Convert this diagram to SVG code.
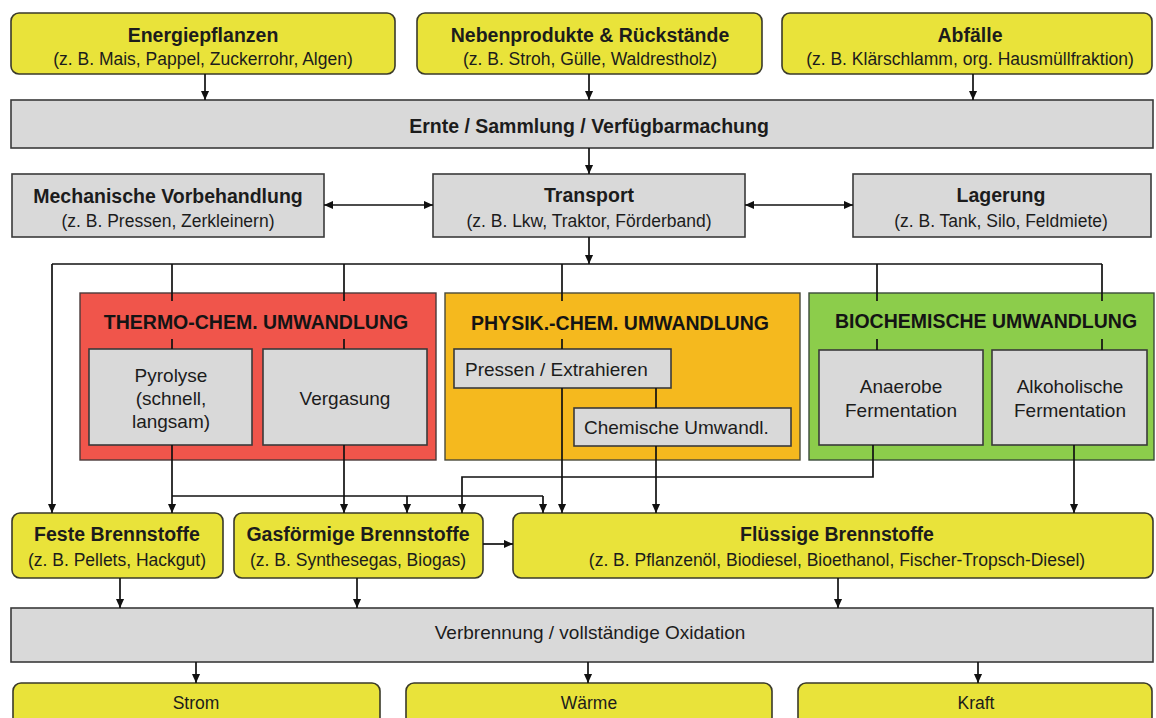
<svg xmlns="http://www.w3.org/2000/svg" width="1156" height="718" viewBox="0 0 1156 718">
<defs>
<marker id="ah" viewBox="0 0 10 10" refX="10" refY="5" markerWidth="10" markerHeight="9" markerUnits="userSpaceOnUse" orient="auto-start-reverse"><path d="M0,0.5 L10,5 L0,9.5 z" fill="#111"/></marker>
<style>
.y{fill:#E9E33A;stroke:#3a3a2a;stroke-width:1.6}
.g{fill:#D9D9D9;stroke:#3a3a3a;stroke-width:1.6}
.red{fill:#F0554B;stroke:#4a3a3a;stroke-width:1.4}
.org{fill:#F5B91E;stroke:#4a4a3a;stroke-width:1.4}
.grn{fill:#8CCD4B;stroke:#3a4a3a;stroke-width:1.4}
text{font-family:"Liberation Sans",Arial,sans-serif;fill:#1c1c1c}
.t{font-weight:bold;font-size:19.5px;text-anchor:middle}
.s{font-size:17.5px;text-anchor:middle}
.n{font-size:19px;text-anchor:middle}
.l{font-weight:bold;font-size:19.5px;text-anchor:middle;fill:#141414}
.c{stroke:#111;stroke-width:1.7;fill:none}
.a{stroke:#111;stroke-width:1.7;fill:none;marker-end:url(#ah)}
</style>
</defs>
<rect width="1156" height="718" fill="#ffffff"/>

<g id="energiepflanzen"><rect class="y" x="11" y="13" width="384" height="61" rx="8"/><text class="t" x="203" y="42">Energiepflanzen</text><text class="s" x="203" y="65">(z. B. Mais, Pappel, Zuckerrohr, Algen)</text></g>
<g id="nebenprodukte"><rect class="y" x="417" y="13" width="345" height="61" rx="8"/><text class="t" x="590" y="42">Nebenprodukte &amp; Rückstände</text><text class="s" x="590" y="65">(z. B. Stroh, Gülle, Waldrestholz)</text></g>
<g id="abfaelle"><rect class="y" x="782" y="13" width="370" height="61" rx="8"/><text class="t" x="970" y="42">Abfälle</text><text class="s" x="970" y="65">(z. B. Klärschlamm, org. Hausmüllfraktion)</text></g>

<g id="ernte"><rect class="g" x="11" y="100" width="1142" height="48"/><text class="t" x="589" y="133">Ernte / Sammlung / Verfügbarmachung</text></g>

<g id="mechanisch"><rect class="g" x="12" y="174" width="312" height="63"/><text class="t" x="168" y="203">Mechanische Vorbehandlung</text><text class="s" x="168" y="227">(z. B. Pressen, Zerkleinern)</text></g>
<g id="transport"><rect class="g" x="433" y="174" width="312" height="63"/><text class="t" x="589" y="202">Transport</text><text class="s" x="589" y="227">(z. B. Lkw, Traktor, Förderband)</text></g>
<g id="lagerung"><rect class="g" x="853" y="174" width="298" height="63"/><text class="t" x="1001" y="202">Lagerung</text><text class="s" x="1001" y="227">(z. B. Tank, Silo, Feldmiete)</text></g>

<g id="thermo"><rect class="red" x="80" y="293" width="356" height="167"/><text class="l" x="256" y="329">THERMO-CHEM. UMWANDLUNG</text></g>
<g id="physik"><rect class="org" x="445" y="293" width="355" height="167"/><text class="l" x="620" y="330">PHYSIK.-CHEM. UMWANDLUNG</text></g>
<g id="bio"><rect class="grn" x="809" y="293" width="345" height="167"/><text class="l" x="986" y="328">BIOCHEMISCHE UMWANDLUNG</text></g>

<g id="pyrolyse"><rect class="g" x="89" y="349" width="163" height="96"/><text class="n" x="171" y="382">Pyrolyse</text><text class="n" x="171" y="405">(schnell,</text><text class="n" x="171" y="428">langsam)</text></g>
<g id="vergasung"><rect class="g" x="263" y="349" width="164" height="96"/><text class="n" x="345" y="405">Vergasung</text></g>
<g id="pressen"><rect class="g" x="454" y="349" width="217" height="39"/><text class="n" x="465" y="376" style="text-anchor:start">Pressen / Extrahieren</text></g>
<g id="chemisch"><rect class="g" x="574" y="408" width="217" height="38"/><text class="n" x="584" y="434" style="text-anchor:start">Chemische Umwandl.</text></g>
<g id="anaerob"><rect class="g" x="819" y="350" width="164" height="95"/><text class="n" x="901" y="393">Anaerobe</text><text class="n" x="901" y="417">Fermentation</text></g>
<g id="alkohol"><rect class="g" x="992" y="350" width="155" height="95"/><text class="n" x="1070" y="393">Alkoholische</text><text class="n" x="1070" y="417">Fermentation</text></g>

<g id="feste"><rect class="y" x="12" y="513" width="211" height="65" rx="8"/><text class="t" x="117" y="541">Feste Brennstoffe</text><text class="s" x="117" y="566">(z. B. Pellets, Hackgut)</text></g>
<g id="gasfoermig"><rect class="y" x="234" y="513" width="249" height="65" rx="8"/><text class="t" x="358" y="541">Gasförmige Brennstoffe</text><text class="s" x="358" y="566">(z. B. Synthesegas, Biogas)</text></g>
<g id="fluessig"><rect class="y" x="513" y="513" width="640" height="65" rx="8"/><text class="t" x="837" y="541">Flüssige Brennstoffe</text><text class="s" x="837" y="566">(z. B. Pflanzenöl, Biodiesel, Bioethanol, Fischer-Tropsch-Diesel)</text></g>

<g id="verbrennung"><rect class="g" x="11" y="608" width="1142" height="54"/><text class="n" x="590" y="639">Verbrennung / vollständige Oxidation</text></g>

<g id="strom"><rect class="y" x="13" y="683" width="367" height="50" rx="8"/><text class="s" x="196" y="709">Strom</text></g>
<g id="waerme"><rect class="y" x="406" y="683" width="366" height="50" rx="8"/><text class="s" x="589" y="709">Wärme</text></g>
<g id="kraft"><rect class="y" x="798" y="683" width="354" height="50" rx="8"/><text class="s" x="976" y="709">Kraft</text></g>

<g id="connectors">
<path class="a" d="M205,74 V100"/>
<path class="a" d="M589,74 V100"/>
<path class="a" d="M973,74 V100"/>
<path class="a" d="M589,148 V174"/>
<path class="a" d="M324,205 H433" style="marker-start:url(#ah)"/>
<path class="a" d="M745,205 H853" style="marker-start:url(#ah)"/>
<path class="a" d="M589,237 V264"/>
<path class="c" d="M52,264 H1102"/>
<path class="a" d="M52,264 V513"/>
<path class="c" d="M172,264 V301 M172,339 V349"/>
<path class="c" d="M344,264 V301 M344,339 V349"/>
<path class="c" d="M562,264 V301 M562,339 V349"/>
<path class="c" d="M877,264 V301 M877,339 V350"/>
<path class="c" d="M1102,264 V301 M1102,339 V350"/>
<path class="a" d="M172,445 V513"/>
<path class="c" d="M172,496 H543"/>
<path class="a" d="M407,496 V513"/>
<path class="a" d="M543,496 V513"/>
<path class="a" d="M344,445 V513"/>
<path class="a" d="M873,445 V477 H462 V513"/>
<path class="a" d="M562,388 V513"/>
<path class="c" d="M656,388 V408"/>
<path class="a" d="M656,446 V513"/>
<path class="a" d="M1074,445 V513"/>
<path class="a" d="M483,544 H513"/>
<path class="a" d="M120,578 V608"/>
<path class="a" d="M357,578 V608"/>
<path class="a" d="M838,578 V608"/>
<path class="a" d="M196,662 V683"/>
<path class="a" d="M588,662 V683"/>
<path class="a" d="M978,662 V683"/>
</g>
</svg>
